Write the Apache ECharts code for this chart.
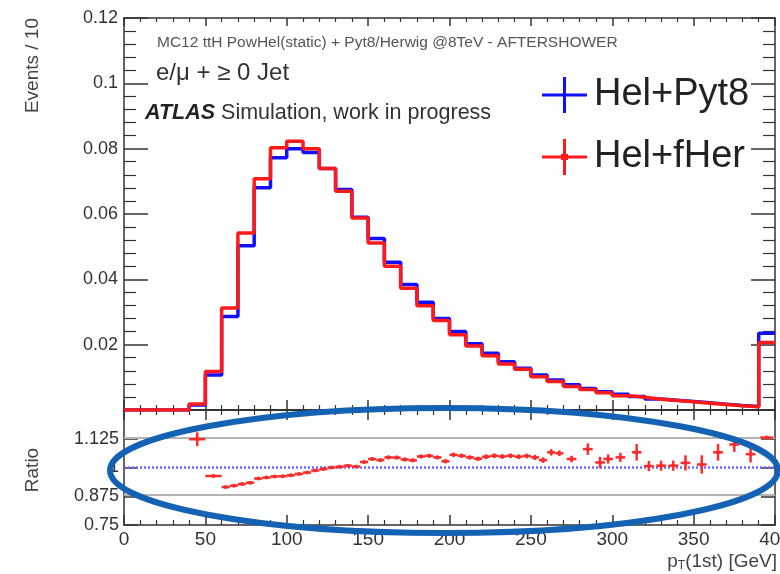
<!DOCTYPE html>
<html><head><meta charset="utf-8">
<script src="https://cdn.jsdelivr.net/npm/echarts@6/dist/echarts.min.js"></script>
<style>html,body{margin:0;padding:0;background:#fff;overflow:hidden;width:780px;height:574px}#c{width:800px;height:574px}</style>
</head><body><div id="c"></div>
<script>
// ---- data ----
const binLowEdges = [0,10,20,30,40,50,60,70,80,90,100,110,120,130,140,150,160,170,180,190,200,210,220,230,240,250,260,270,280,290,300,310,320,330,340,350,360,370,380,390];
const helPyt8 = [0,0,0,0,0.0015,0.0107,0.0286,0.0503,0.068,0.0772,0.080,0.0788,0.0739,0.0675,0.059,0.0525,0.0452,0.0384,0.033,0.028,0.024,0.0203,0.0174,0.0148,0.0128,0.0107,0.0092,0.0077,0.0066,0.0056,0.0048,0.0041,0.0034,0.0030,0.0026,0.0022,0.0018,0.0014,0.0011,0.0235];
const helFHer = [0,0,0,0,0.0018,0.0118,0.0312,0.0542,0.0708,0.0803,0.0823,0.080,0.0739,0.067,0.0588,0.0511,0.044,0.0373,0.0319,0.0274,0.023,0.0196,0.0166,0.0141,0.0125,0.0102,0.0087,0.0072,0.0063,0.0053,0.0044,0.0039,0.0033,0.0029,0.0025,0.0021,0.0017,0.0013,0.0010,0.0207];
const ratioX = [45,55,62.5,67.5,72.5,77.5,82.5,87.5,92.5,97.5,102.5,107.5,112.5,117.5,122.5,127.5,132.5,137.5,142.5,147.5,152.5,157.5,162.5,167.5,172.5,177.5,182.5,187.5,192.5,197.5,202.5,207.5,212.5,217.5,222.5,227.5,232.5,237.5,242.5,247.5,252.5,257.5,262.5,267.5,275,285,292.5,297.5,305,315,322.5,330,337.5,345,355,365,375,385,395];
const ratioVal = [1.123,0.963,0.915,0.921,0.928,0.934,0.952,0.956,0.961,0.962,0.966,0.972,0.978,0.987,0.993,1.000,1.003,1.008,1.004,1.024,1.037,1.032,1.044,1.043,1.035,1.031,1.048,1.051,1.044,1.027,1.055,1.051,1.044,1.038,1.047,1.051,1.048,1.051,1.047,1.050,1.044,1.032,1.066,1.062,1.037,1.080,1.022,1.037,1.044,1.066,1.006,1.008,1.008,1.020,1.013,1.066,1.100,1.058,1.130];
const ratioXErr = [5,5,2.5,2.5,2.5,2.5,2.5,2.5,2.5,2.5,2.5,2.5,2.5,2.5,2.5,2.5,2.5,2.5,2.5,2.5,2.5,2.5,2.5,2.5,2.5,2.5,2.5,2.5,2.5,2.5,2.5,2.5,2.5,2.5,2.5,2.5,2.5,2.5,2.5,2.5,2.5,2.5,2.5,2.5,3,3,3,3,3,3,3,3,3,3,3,3,3,3,4];
const ratioYErr = [0.03,0.006,0.004,0.004,0.004,0.004,0.004,0.004,0.004,0.004,0.004,0.004,0.004,0.004,0.004,0.004,0.004,0.005,0.005,0.006,0.008,0.008,0.008,0.008,0.008,0.008,0.008,0.008,0.008,0.009,0.009,0.009,0.009,0.009,0.01,0.01,0.01,0.01,0.01,0.01,0.011,0.012,0.014,0.012,0.014,0.025,0.025,0.02,0.02,0.036,0.022,0.022,0.022,0.033,0.04,0.036,0.032,0.036,0.004];
const xTicks = [0,50,100,150,200,250,300,350,400];
const seriesNames = ['Hel+Pyt8','Hel+fHer'];

// ---- build ----
const FONT = "'Liberation Sans', Arial, Helvetica, sans-serif";
function stepData(vals){
  const d = binLowEdges.map((e,i)=>[e, vals[i]]);
  d.push([400, vals[vals.length-1]]);
  return d;
}
const ratioData = ratioX.map((x,i)=>[x, ratioVal[i], ratioXErr[i], ratioYErr[i]]);
const axisCol = '#333';
function xAx(grid, pos, showLabel, tickLen, minorLen, lw){
  return {type:'value', gridIndex:grid, position:pos, min:xTicks[0], max:xTicks[xTicks.length-1], interval:50,
    axisLine:{show:true, onZero:false, lineStyle:{color:axisCol, width:lw}},
    axisTick:{show:true, inside:true, length:tickLen, lineStyle:{color:axisCol, width:1.5}},
    minorTick:{show:true, splitNumber:5, length:minorLen, lineStyle:{color:axisCol, width:1.2}},
    splitLine:{show:false},
    axisLabel:{show:showLabel, fontSize:19, color:'#333', fontFamily:FONT, margin:5,
      alignMinLabel:'center', alignMaxLabel:'center', hideOverlap:false}};
}
const chart = echarts.init(document.getElementById('c'), null, {renderer:'canvas'});
chart.setOption({
  animation:false,
  backgroundColor:'#fff',
  grid:[{left:124, top:18, width:651, height:392},{left:124, top:410, width:651, height:115}],
  xAxis:[
    xAx(0,'bottom',false,10,5,2),
    xAx(0,'top',false,8,4,1.5),
    xAx(1,'bottom',true,10,5,1.5),
    xAx(1,'top',false,10,5,2)
  ],
  yAxis:[
    {type:'value', gridIndex:0, position:'left', min:0, max:0.12, interval:0.02,
     axisLine:{show:true, onZero:false, lineStyle:{color:axisCol, width:1.5}},
     axisTick:{show:true, inside:true, length:24, lineStyle:{color:axisCol, width:1.5}},
     minorTick:{show:true, splitNumber:5, length:12, lineStyle:{color:axisCol, width:1.2}},
     splitLine:{show:false},
     axisLabel:{fontSize:18, color:'#333', fontFamily:FONT, margin:6, formatter:v=> v===0 ? '' : String(+v.toFixed(3))}},
    {type:'value', gridIndex:0, position:'right', min:0, max:0.12, interval:0.02,
     axisLine:{show:true, onZero:false, lineStyle:{color:axisCol, width:1.5}},
     axisTick:{show:true, inside:true, length:24, lineStyle:{color:axisCol, width:1.5}},
     minorTick:{show:true, splitNumber:5, length:12, lineStyle:{color:axisCol, width:1.2}},
     splitLine:{show:false}, axisLabel:{show:false}},
    {type:'value', gridIndex:1, position:'left', min:0.75, max:1.25, interval:0.125,
     axisLine:{show:true, onZero:false, lineStyle:{color:axisCol, width:1.5}},
     axisTick:{show:true, inside:true, length:14, lineStyle:{color:axisCol, width:1.5}},
     splitLine:{show:false},
     axisLabel:{fontSize:18, color:'#333', fontFamily:FONT, margin:5, formatter:v=> v>=1.2 ? '' : String(+v.toFixed(3))}},
    {type:'value', gridIndex:1, position:'right', min:0.75, max:1.25, interval:0.125,
     axisLine:{show:true, onZero:false, lineStyle:{color:axisCol, width:1.5}},
     axisTick:{show:true, inside:true, length:14, lineStyle:{color:axisCol, width:1.5}},
     splitLine:{show:false}, axisLabel:{show:false}}
  ],
  legend:{
    orient:'vertical', left:537, top:71, itemWidth:45, itemHeight:36, itemGap:24, selectedMode:false,
    data:[
      {name:seriesNames[0], icon:'path://M0,16.5h45v3h-45z M21,0h3v36h-3z'},
      {name:seriesNames[1], icon:'path://M0,16.5h45v3h-45z M21,0h3v36h-3z M19,15h7v6h-7z'}
    ],
    textStyle:{fontSize:38, lineHeight:38, color:'#222', fontFamily:FONT, padding:[0,0,0,2]}
  },
  series:[
    {name:seriesNames[0], type:'line', xAxisIndex:0, yAxisIndex:0, step:'end', showSymbol:false, symbol:'none',
     data:stepData(helPyt8), itemStyle:{color:'#1010ff'}, lineStyle:{color:'#1010ff', width:3.5}, z:3},
    {name:seriesNames[1], type:'line', xAxisIndex:0, yAxisIndex:0, step:'end', showSymbol:false, symbol:'none',
     data:stepData(helFHer), itemStyle:{color:'#ff1a1a'}, lineStyle:{color:'#ff1a1a', width:3.5}, z:4},
    {name:'refs', type:'line', xAxisIndex:2, yAxisIndex:2, data:[], symbol:'none',
     markLine:{silent:true, symbol:'none', label:{show:false}, animation:false,
       data:[
         {yAxis:1.125, lineStyle:{color:'#b4b4b4', width:2, type:'solid'}},
         {yAxis:0.875, lineStyle:{color:'#b4b4b4', width:2, type:'solid'}},
         {yAxis:1, lineStyle:{color:'#6a6aff', width:2.5, type:[2,2]}}
       ]}},
    {name:'ratio', type:'custom', xAxisIndex:2, yAxisIndex:2, data:ratioData, z:5,
     renderItem:function(params, api){
       const x=api.value(0), y=api.value(1), ex=api.value(2), ey=api.value(3);
       const c=api.coord([x,y]), l=api.coord([x-ex,y]), r=api.coord([x+ex,y]);
       const t=api.coord([x,y+ey]), b=api.coord([x,y-ey]);
       const col='#ff2a2a';
       return {type:'group', children:[
         {type:'line', shape:{x1:l[0],y1:c[1],x2:r[0],y2:c[1]}, style:{stroke:col, lineWidth:2.5}},
         {type:'line', shape:{x1:c[0],y1:t[1],x2:c[0],y2:b[1]}, style:{stroke:col, lineWidth:2.5}},
         {type:'circle', shape:{cx:c[0],cy:c[1],r:2}, style:{fill:col}}
       ]};
     }}
  ],
  graphic:[
    {type:'text', x:157, y:43, style:{text:'MC12 ttH PowHel(static) + Pyt8/Herwig @8TeV - AFTERSHOWER', font:'15.5px '+FONT, fill:'#555', verticalAlign:'middle'}},
    {type:'text', x:156, y:73, style:{text:'e/μ + ≥ 0 Jet', font:'24px '+FONT, fill:'#333', verticalAlign:'middle'}},
    {type:'text', x:145, y:113, style:{text:'{b|ATLAS} Simulation, work in progress', font:'21.5px '+FONT, fill:'#333', verticalAlign:'middle',
      rich:{b:{fontWeight:'bold', fontStyle:'italic', fontSize:21.5, fontFamily:FONT, fill:'#222'}}}},
    {type:'text', x:33, y:18, rotation:Math.PI/2, style:{text:'Events / 10', font:'19px '+FONT, fill:'#444', align:'right', verticalAlign:'middle'}},
    {type:'text', x:33, y:470, rotation:Math.PI/2, style:{text:'Ratio', font:'19px '+FONT, fill:'#444', align:'center', verticalAlign:'middle'}},
    {type:'text', x:777, y:562, style:{text:'p{s|T}(1st) [GeV]', font:'19px '+FONT, fill:'#444', align:'right', verticalAlign:'middle',
      rich:{s:{fontSize:12, fontFamily:FONT, fill:'#444', verticalAlign:'bottom', padding:[8,0,0,0]}}}},
    {type:'ellipse', z:100, shape:{cx:444, cy:470.5, rx:334, ry:62.5}, style:{fill:null, stroke:'#1462b4', lineWidth:6}}
  ]
});
</script></body></html>
